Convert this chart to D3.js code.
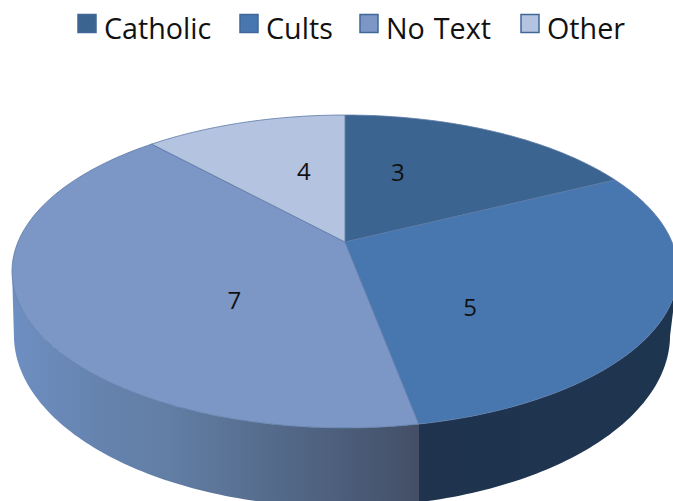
<!DOCTYPE html>
<html><head><meta charset="utf-8">
<script src="https://cdnjs.cloudflare.com/ajax/libs/d3/7.8.5/d3.min.js"></script>
<style>html,body{margin:0;padding:0;background:#fff;overflow:hidden}svg{display:block}</style>
</head><body><svg id="c" width="673" height="501"></svg>
<script>
const categories = ["Catholic","Cults","No Text","Other"];
const sliceValues = [3,5,7,2];
const sliceLabels = ["3","5","7","4"];
const colors = ["#3c6491","#4877b0","#7c97c6","#b4c3df"];
const legendX = [78,240,360,521];
const labelTurn = [-12.5,22.3,-22.5,6.2];
const labelRadius = [0.538,0.536,0.48,0.534];

const svg = d3.select("#c");
const top_ = {cx:345,cy:242,A:327,B:150.9,k:0.1885};
const bot = {cx:342,cy:302.6,A:322.2,B:165.9,k:0.1885};
const proj=(p,t,r=1)=>{const u=r*Math.sin(t),v=r*Math.cos(t),w=1+p.k*v;return [p.cx+p.A*u/w,p.cy-p.B*v/w];};
const deg=Math.PI/180;
const pie=d3.pie().sort(null)(sliceValues);
const line=d3.line();
const sample=(a,b)=>{const n=Math.max(2,Math.ceil(Math.abs(b-a)/deg));return d3.range(n+1).map(i=>a+(b-a)*i/n);};

// one wall, split in colour where the Cults / No Text boundary meets the rim
const cutX=proj(top_,pie[1].endAngle)[0];
const x0=12,x1=673,off=x=>(x-x0)/(x1-x0);
const g=svg.append("defs").append("linearGradient").attr("id","wl").attr("gradientUnits","userSpaceOnUse")
 .attr("x1",x0).attr("x2",x1).attr("y1",0).attr("y2",0);
[[x0,"#6e8fc2"],[100,"#6583ae"],[170,"#627ea4"],[340,"#4c5e7b"],[cutX,"#444f66"],[cutX,"#1f334e"],[x1,"#1e3550"]]
 .forEach(s=>g.append("stop").attr("offset",off(s[0])).attr("stop-color",s[1]));
const wallPts=sample(101*deg,259*deg).map(t=>proj(top_,t))
  .concat(sample(101*deg,259*deg).reverse().map(t=>proj(bot,t)));
svg.append("path").attr("d",line(wallPts)+"Z").attr("fill","url(#wl)");

// top face
pie.forEach((d,i)=>{
  const pts=[proj(top_,0,0)].concat(sample(d.startAngle,d.endAngle).map(t=>proj(top_,t)));
  svg.append("path").attr("d",line(pts)+"Z").attr("fill",colors[i])
    .attr("stroke","#5b7aa6").attr("stroke-width",0.8).attr("stroke-linejoin","round");
});
// value labels
pie.forEach((d,i)=>{
  const mid=(d.startAngle+d.endAngle)/2+labelTurn[i]*deg;
  const p=proj(top_,mid,labelRadius[i]);
  svg.append("text").attr("x",p[0]).attr("y",p[1]-1).attr("text-anchor","middle").attr("dominant-baseline","central")
   .attr("font-family","'Open Sans'").attr("font-size",24).attr("fill","#111").text(sliceLabels[i]);
});
// legend
categories.forEach((c,i)=>{
  svg.append("rect").attr("x",legendX[i]).attr("y",14.5).attr("width",18).attr("height",18)
    .attr("fill",colors[i]).attr("stroke","#3f6899").attr("stroke-width",1.5);
  svg.append("text").attr("x",legendX[i]+26).attr("y",39).attr("font-family","'Open Sans'").attr("font-size",28.7)
    .attr("word-spacing",1.5).attr("fill","#111").text(c);
});
</script></body></html>
